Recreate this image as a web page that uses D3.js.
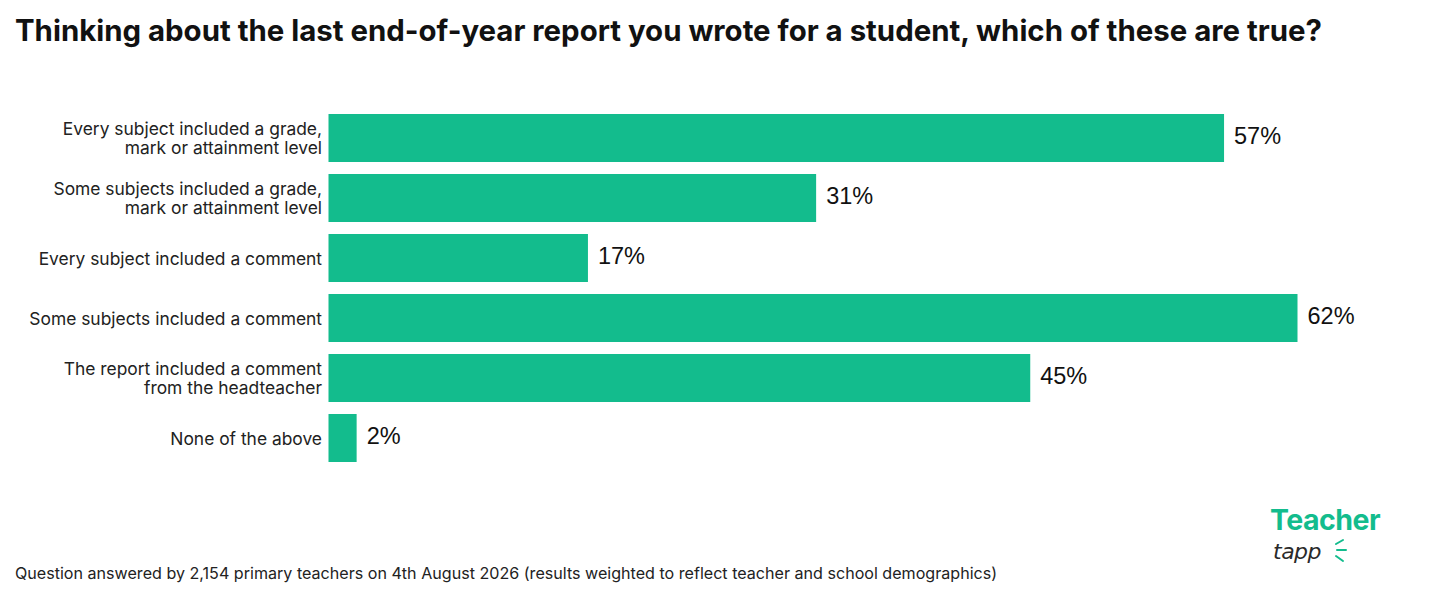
<!DOCTYPE html>
<html>
<head>
<meta charset="utf-8">
<script src="https://cdn.jsdelivr.net/npm/d3@7"></script>
<style>
  body { margin: 0; background: #fff; }
  svg { display: block; }
</style>
</head>
<body>
<div id="chart"></div>
<script>
// answers, top to bottom (labels split into lines the way the chart shows them)
const categories = [
  ["Every subject included a grade,", "mark or attainment level"],
  ["Some subjects included a grade,", "mark or attainment level"],
  ["Every subject included a comment"],
  ["Some subjects included a comment"],
  ["The report included a comment", "from the headteacher"],
  ["None of the above"]
];
// bar lengths; labels show them rounded
const values = [57.3, 31.2, 16.6, 62, 44.9, 1.8];

const title = "Thinking about the last end-of-year report you wrote for a student, which of these are true?";
const footnote = "Question answered by 2,154 primary teachers on 4th August 2026 (results weighted to reflect teacher and school demographics)";

const width = 1440, height = 600;
const green = "#13bc8d";
const ink = "#222";

const svg = d3.select("#chart").append("svg")
  .attr("width", width)
  .attr("height", height);

// title
svg.append("text")
  .attr("x", 15).attr("y", 41)
  .attr("font-family", "Inter, 'Noto Sans', sans-serif")
  .attr("font-weight", 700)
  .attr("font-size", 29.4)
  .attr("fill", "#111")
  .text(title);

const ids = categories.map((d, i) => i);

const y = d3.scaleBand()
  .domain(ids)
  .range([108, 468])
  .paddingInner(0.2)
  .paddingOuter(0.1);

const x = d3.scaleLinear()
  .domain([0, 62])
  .range([328.5, 1297.5]);

// bars
svg.append("g")
  .selectAll("rect")
  .data(values)
  .join("rect")
    .attr("x", x(0))
    .attr("y", (d, i) => y(i))
    .attr("width", d => x(d) - x(0))
    .attr("height", y.bandwidth())
    .attr("fill", green);

// value labels
svg.append("g")
  .selectAll("text")
  .data(values)
  .join("text")
    .attr("x", d => x(d) + 10)
    .attr("y", (d, i) => y(i) + y.bandwidth() / 2)
    .attr("dy", "0.27em")
    .attr("font-family", "'Liberation Sans', Arial, sans-serif")
    .attr("font-size", 23.5)
    .attr("fill", "#111")
    .text(d => d3.format(".0f")(d) + "%");

// category labels, right aligned against the bars
const lineGap = 19;
const labels = svg.append("g")
  .attr("font-family", "Inter, 'Noto Sans', sans-serif")
  .attr("font-size", 17.4)
  .attr("fill", ink)
  .attr("text-anchor", "end")
  .selectAll("text")
  .data(categories)
  .join("text")
    .attr("x", 322)
    .attr("y", (d, i) => y(i) + y.bandwidth() / 2 - (d.length - 1) * lineGap / 2);

labels.selectAll("tspan")
  .data(d => d)
  .join("tspan")
    .attr("x", 322)
    .attr("dy", (d, j) => j === 0 ? "0.4em" : lineGap)
    .text(d => d);

// footnote
svg.append("text")
  .attr("x", 15).attr("y", 579)
  .attr("font-family", "Inter, 'Noto Sans', sans-serif")
  .attr("font-size", 16.1)
  .attr("fill", ink)
  .text(footnote);

// Teacher Tapp logo
const logo = svg.append("g").attr("transform", "translate(1270,0)");
logo.append("text")
  .attr("x", 0).attr("y", 530)
  .attr("font-family", "Inter, 'Noto Sans', sans-serif")
  .attr("font-weight", 700)
  .attr("font-size", 28.5)
  .attr("letter-spacing", -0.5)
  .attr("fill", green)
  .text("Teacher");
logo.append("text")
  .attr("x", 3).attr("y", 559)
  .attr("font-family", "'DejaVu Sans', sans-serif")
  .attr("font-style", "italic")
  .attr("font-size", 22)
  .attr("letter-spacing", -0.5)
  .attr("fill", "#2a2a2a")
  .text("tapp");
const spark = [[66, 544, 73, 540], [67, 550, 76, 550], [66, 556, 73, 561]];
logo.append("g")
  .selectAll("line")
  .data(spark)
  .join("line")
    .attr("x1", d => d[0]).attr("y1", d => d[1])
    .attr("x2", d => d[2]).attr("y2", d => d[3])
    .attr("stroke", green)
    .attr("stroke-width", 2)
    .attr("stroke-linecap", "round");
</script>
</body>
</html>
